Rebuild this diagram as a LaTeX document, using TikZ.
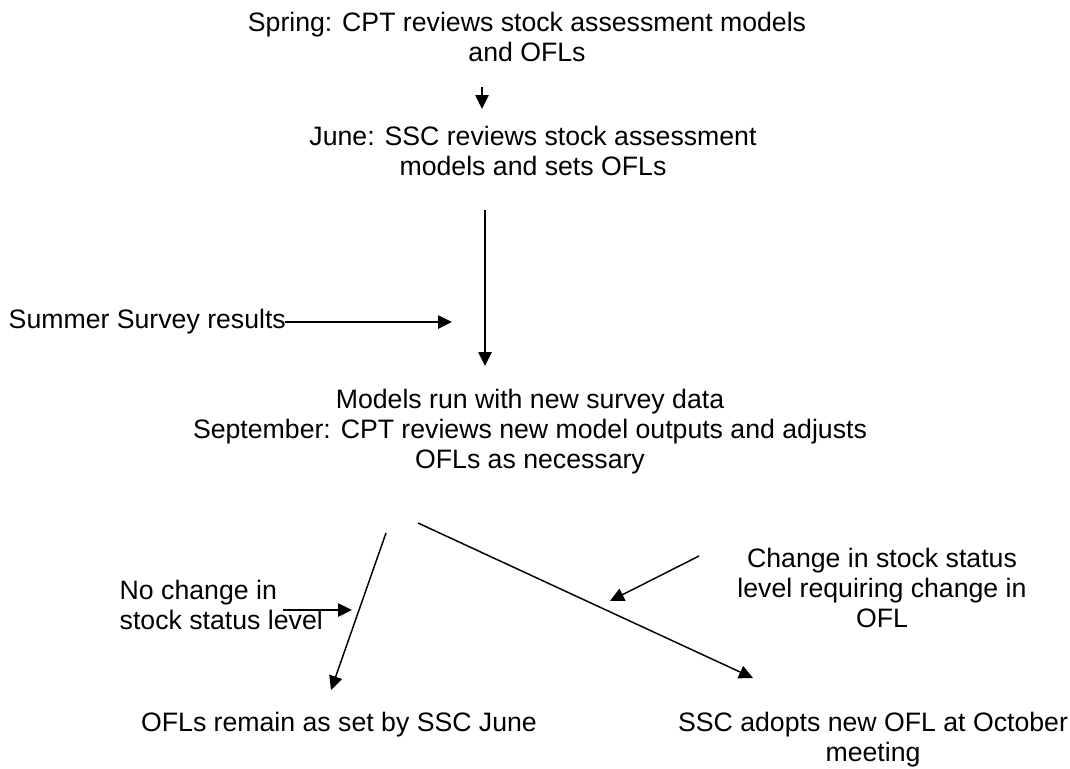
\documentclass[tikz,border=0pt]{standalone}
\usepackage{fontspec}
\setmainfont{Liberation Sans}
\usetikzlibrary{arrows.meta}

\tikzset{every picture/.style={line width=1.1pt}}
\tikzset{
  flowtext/.style={inner sep=0pt, align=center, font=\fontsize{20}{22.5}\selectfont},
  flowarrow/.style={-{Triangle[length=10.5pt,width=10pt]}},
}

\begin{document}
\begin{tikzpicture}[x=0.75pt,y=0.75pt,yscale=-1,xscale=1]
\useasboundingbox (0,0) rectangle (1070,768);

% Text Node
\node [flowtext] (spring) at (527,37) {Spring: CPT reviews stock assessment models\\and OFLs};
% Text Node
\node [flowtext] (june) at (533,151) {June: SSC reviews stock assessment\\models and sets OFLs};
% Text Node
\node [flowtext, anchor=west] (summer) at (8,322) {Summer Survey results};
% Text Node
\node [flowtext] (models) at (530,432) {Models run with new survey data\\September: CPT reviews new model outputs and adjusts\\OFLs as necessary};
% Text Node
\node [flowtext, align=left, anchor=west] (nochange) at (119,605) {No change in\\stock status level};
% Text Node
\node [flowtext] (change) at (882,588) {Change in stock status\\level requiring change in\\OFL};
% Text Node
\node [flowtext] (remain) at (339,725) {OFLs remain as set by SSC June};
% Text Node
\node [flowtext] (adopt) at (873,740) {SSC adopts new OFL at October\\meeting};

% free ends
\coordinate (a1) at (482,87);
\coordinate (a2) at (482,109);
\coordinate (b1) at (485,210);
\coordinate (b2) at (485,366);
\coordinate (c1) at (285,322);
\coordinate (c2) at (452,322);
\coordinate (d1) at (386,533);
\coordinate (d2) at (331,690);
\coordinate (e1) at (418,523);
\coordinate (e2) at (753,678);
\coordinate (f1) at (283,610);
\coordinate (f2) at (352,610);
\coordinate (g1) at (699,556);
\coordinate (g2) at (610,601);

%Straight Lines
\draw [flowarrow] (a1) -- (a2);
\draw [flowarrow] (b1) -- (b2);
\draw [flowarrow] (c1) -- (c2);
\draw [flowarrow] (d1) -- (d2);
\draw [flowarrow] (e1) -- (e2);
\draw [flowarrow] (f1) -- (f2);
\draw [flowarrow] (g1) -- (g2);

\end{tikzpicture}
\end{document}
